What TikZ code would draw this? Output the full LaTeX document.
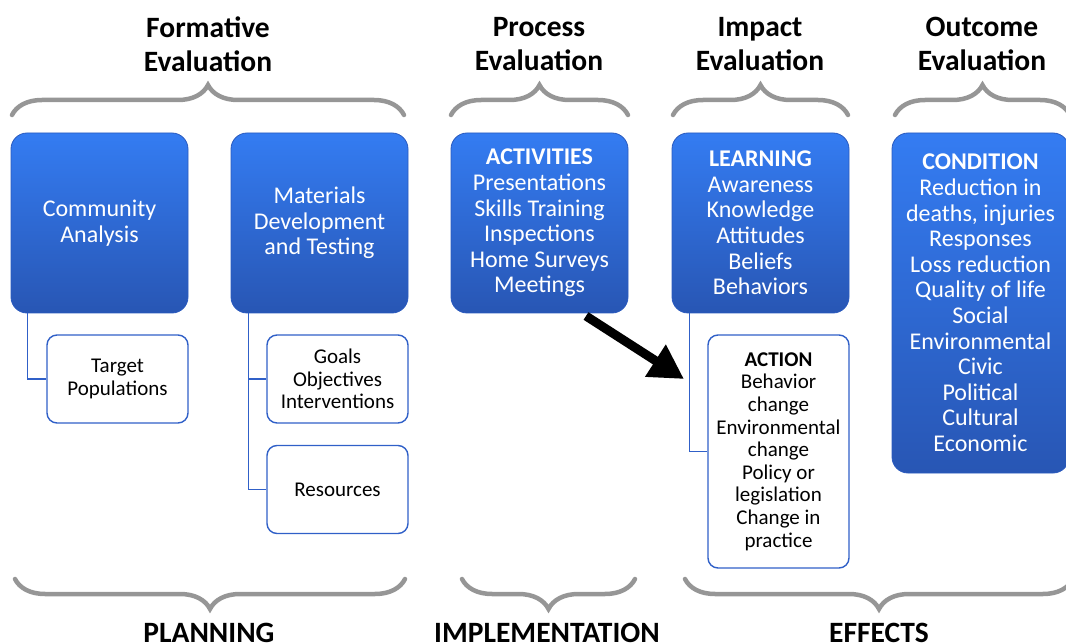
\documentclass[tikz,border=0pt]{standalone}
\usepackage{fontspec}
\setmainfont{Carlito}
\usetikzlibrary{positioning,arrows.meta,decorations.pathreplacing}
\definecolor{boxtop}{RGB}{52,124,242}
\definecolor{boxbot}{RGB}{40,86,180}
\definecolor{boxline}{RGB}{42,90,190}
\definecolor{linkblue}{RGB}{48,96,200}
\definecolor{bracegray}{RGB}{150,150,150}
\begin{document}
\begin{tikzpicture}[x=1pt, y=-1pt,
    bluebox/.style={draw=boxline, line width=0.8pt, rounded corners=16pt, top color=boxtop, bottom color=boxbot, text=white, align=center, minimum width=177pt, minimum height=180pt, inner sep=2pt, font=\fontsize{24}{25.6}\selectfont},
    whitebox/.style={draw=linkblue, line width=1.4pt, rounded corners=10pt, fill=white, align=center, minimum width=141pt, minimum height=88pt, inner sep=2pt, font=\fontsize{21}{22.6}\selectfont},
    title/.style={align=center, font=\fontsize{29.5}{34.5}\selectfont\bfseries},
    link/.style={draw=linkblue, line width=1.2pt},
    bracket/.style={draw=bracegray, line width=4.5pt, line cap=round, decorate, decoration={brace, amplitude=30pt}}]
    \useasboundingbox (0,0) rectangle (1066,644);
    \clip (0,0) rectangle (1066,644);

    % headings
    \node[title] (fe) at (208,44) {Formative\\Evaluation};
    \node[title] (pe) at (539,44) {Process\\Evaluation};
    \node[title] (ie) at (760,44) {Impact\\Evaluation};
    \node[title] (oe) at (982,44) {Outcome\\Evaluation};
    \draw[bracket] (12,115) -- (404,115);
    \draw[bracket] (451,115) -- (628,115);
    \draw[bracket] (673,115) -- (848,115);
    \draw[bracket] (895,115) -- (1070,115);

    % blue boxes
    \node[bluebox] (comm) at (99.5,223) {Community\\Analysis};
    \node[bluebox] (mat) at (319.5,223) {Materials\\Development\\and Testing};
    \node[bluebox] (acts) at (539.5,223) {\textbf{ACTIVITIES}\\Presentations\\Skills Training\\Inspections\\Home Surveys\\Meetings};
    \node[bluebox] (learn) at (760.5,223) {\textbf{LEARNING}\\Awareness\\Knowledge\\Attitudes\\Beliefs\\Behaviors};
    \node[bluebox, minimum height=340pt] (cond) at (980.5,303) {\textbf{CONDITION}\\Reduction in\\deaths, injuries\\Responses\\Loss reduction\\Quality of life\\Social\\Environmental\\Civic\\Political\\Cultural\\Economic};

    % white boxes
    \node[whitebox] (target) at (117.5,379) {Target\\Populations};
    \node[whitebox] (goals) at (337.5,379) {Goals\\Objectives\\Interventions};
    \node[whitebox] (res) at (337.5,489.5) {Resources};
    \node[whitebox, minimum height=233pt] (action) at (778.5,451.5) {\textbf{ACTION}\\Behavior\\change\\Environmental\\change\\Policy or\\legislation\\Change in\\practice};

    \draw[link] ([xshift=17pt]comm.south west) |- (target.west);
    \draw[link] ([xshift=18pt]mat.south west) |- (goals.west);
    \draw[link] ([xshift=18pt]mat.south west) |- (res.west);
    \draw[link] ([xshift=18pt]learn.south west) |- (action.west);

    \coordinate (arrS) at (586,316);
    \coordinate (arrE) at (684,379);
    \draw[line width=9pt, -{Triangle[length=34pt, width=36pt]}] (arrS) -- (arrE);

    % bottom
    \draw[bracket] (405,579) -- (15,579);
    \draw[bracket] (635,579) -- (462,579);
    \draw[bracket] (1073,579) -- (685,579);
    \node[title, anchor=base] (plan) at (209,642) {PLANNING};
    \node[title, anchor=base] (impl) at (547,642) {IMPLEMENTATION};
    \node[title, anchor=base] (eff) at (879,642) {EFFECTS};
\end{tikzpicture}
\end{document}
